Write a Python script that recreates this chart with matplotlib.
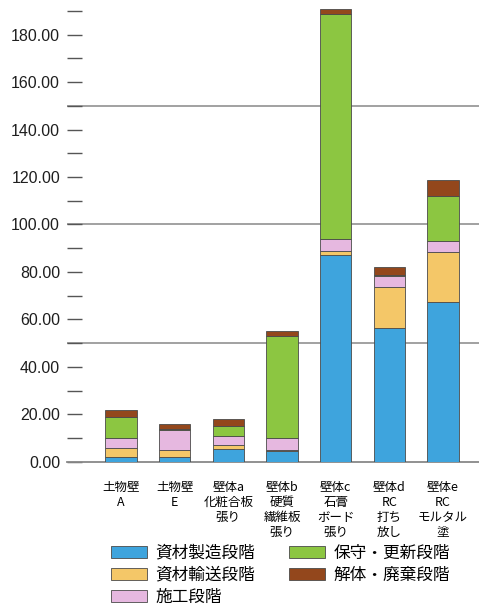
import numpy as np
import matplotlib
matplotlib.use('Agg')
from matplotlib import pyplot as plt

plt.rcParams['font.family'] = ['Noto Sans CJK JP', 'DejaVu Sans']

walls = ['土物壁\nA', '土物壁\nE', '壁体a\n化粧合板\n張り', '壁体b\n硬質\n繊維板\n張り',
         '壁体c\n石膏\nボード\n張り', '壁体d\nRC\n打ち\n放し', '壁体e\nRC\nモルタル\n塗']

stages = ['資材製造段階', '資材輸送段階', '施工段階', '保守・更新段階', '解体・廃棄段階']
seizo = [1.8, 2.0, 5.3, 4.3, 87.1, 56.2, 67.2]
yuso = [3.8, 2.8, 1.9, 0.8, 1.7, 17.3, 21.3]
sekou = [4.2, 8.6, 3.5, 4.9, 5.0, 4.8, 4.7]
hoshu = [9.0, 0.3, 4.5, 42.8, 94.9, 0.3, 18.8]
kaitai = [2.9, 2.3, 2.9, 2.4, 2.2, 3.6, 6.8]

colors = ['#3ea4dd', '#f4c768', '#e6b8e0', '#8cc641', '#93471c']

fig = plt.figure(figsize=(4.79, 6.12), dpi=100)
ax = fig.add_axes([67 / 479, 1 - 461.7 / 612, 412 / 479, 461.7 / 612])

x = np.arange(len(walls))
bottom = np.zeros(len(walls))
for name, vals, c in zip(stages, [seizo, yuso, sekou, hoshu, kaitai], colors):
    ax.bar(x, vals, 0.58, bottom=bottom, color=c, edgecolor='#4a4a4a',
           linewidth=0.6, label=name, zorder=3)
    bottom += np.array(vals)

for y in [50, 100, 150]:
    ax.axhline(y, color='#9a9a9a', linewidth=1.3, zorder=1)

ax.set_xlim(-1.006, 6.67)
ax.set_ylim(0, 194.6)
ax.set_yticks(np.arange(0, 181, 20))
ax.set_yticklabels([f'{v:.2f}' for v in np.arange(0, 181, 20)], fontsize=11.5,
                   family=['Liberation Sans', 'DejaVu Sans'], color='#1e1e1e')
ax.set_yticks(np.arange(10, 191, 20), minor=True)
ax.tick_params(axis='y', which='both', direction='in', length=11, width=1.0,
               color='#555555', pad=5)
ax.set_xticks(x)
ax.set_xticklabels(walls, fontsize=9, linespacing=1.2)
ax.tick_params(axis='x', length=0, pad=14)

for s in ['top', 'right', 'left']:
    ax.spines[s].set_visible(False)
ax.spines['bottom'].set_color('#888888')
ax.spines['bottom'].set_linewidth(1.3)

fig.legend(loc='upper left', bbox_to_anchor=(99 / 479, 1 - 533 / 612), ncol=2,
           frameon=False, fontsize=12, handlelength=2.2, handleheight=0.8,
           columnspacing=2.0, labelspacing=0.3, handletextpad=0.5,
           borderpad=0.2)

fig.savefig('out.png', dpi=100)
